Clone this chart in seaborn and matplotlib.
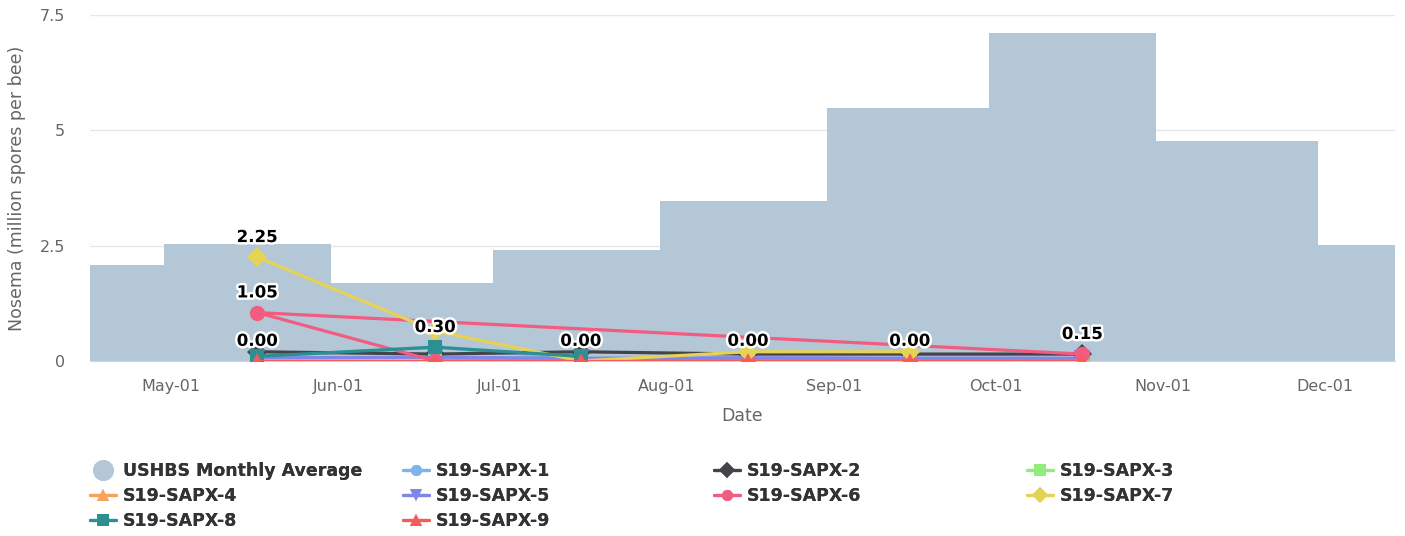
import matplotlib
matplotlib.use("Agg")
import matplotlib.pyplot as plt
import matplotlib.dates as mdates
import matplotlib.ticker as mticker
import matplotlib.patheffects as pe
from matplotlib.lines import Line2D
import pandas as pd
import seaborn as sns

# =========================
# DATA
# =========================
month_starts = ["2019-04-01", "2019-05-01", "2019-06-01", "2019-07-01", "2019-08-01",
                "2019-09-01", "2019-10-01", "2019-11-01", "2019-12-01", "2020-01-01"]
monthly_avg = [2.08, 2.54, 1.69, 2.41, 3.47, 5.49, 7.11, 4.77, 2.52]

sample_dates = ["2019-05-17", "2019-06-19", "2019-07-16", "2019-08-16", "2019-09-15", "2019-10-17"]

# each series: dates (in data order) and values
sapx_1_dates = sample_dates
sapx_1 = [0.10, 0.30, 0.05, 0.05, 0.05, 0.05]
sapx_2_dates = sample_dates
sapx_2 = [0.20, 0.15, 0.20, 0.15, 0.15, 0.15]
sapx_3_dates = sample_dates
sapx_3 = [0.00, 0.00, 0.00, 0.00, 0.00, 0.00]
sapx_4_dates = sample_dates[:3]
sapx_4 = [0.00, 0.00, 0.00]
sapx_5_dates = sample_dates
sapx_5 = [0.07, 0.08, 0.06, 0.07, 0.06, 0.06]
sapx_6_dates = ["2019-10-17", "2019-05-17", "2019-06-19", "2019-07-16", "2019-08-16", "2019-09-15"]
sapx_6 = [0.15, 1.05, 0.00, 0.00, 0.00, 0.00]
sapx_7_dates = sample_dates[:5]
sapx_7 = [2.25, 0.65, 0.00, 0.20, 0.20]
sapx_8_dates = sample_dates[:3]
sapx_8 = [0.10, 0.30, 0.10]
sapx_9_dates = sample_dates
sapx_9 = [0.00, 0.00, 0.00, 0.00, 0.00, 0.00]

label_dates = ["2019-05-17", "2019-05-17", "2019-05-17", "2019-06-19",
               "2019-07-16", "2019-08-16", "2019-09-15", "2019-10-17"]
label_values = [2.25, 1.05, 0.00, 0.30, 0.00, 0.00, 0.00, 0.15]

series = [
    ("S19-SAPX-1", sapx_1_dates, sapx_1, "#7cb5ec", "o"),
    ("S19-SAPX-2", sapx_2_dates, sapx_2, "#434348", "D"),
    ("S19-SAPX-3", sapx_3_dates, sapx_3, "#90ed7d", "s"),
    ("S19-SAPX-4", sapx_4_dates, sapx_4, "#f7a35c", "^"),
    ("S19-SAPX-5", sapx_5_dates, sapx_5, "#8085e9", "v"),
    ("S19-SAPX-6", sapx_6_dates, sapx_6, "#f15c80", "o"),
    ("S19-SAPX-7", sapx_7_dates, sapx_7, "#e4d354", "D"),
    ("S19-SAPX-8", sapx_8_dates, sapx_8, "#2b908f", "s"),
    ("S19-SAPX-9", sapx_9_dates, sapx_9, "#f45b5b", "^"),
]

BAR_COLOR = "#b4c7d6"
TEXT_COLOR = "#666666"
W, H = 1405, 536

# =========================
# FIGURE
# =========================
sns.set_style("white")
plt.rcParams["font.family"] = ["DejaVu Sans"]

fig = plt.figure(figsize=(W / 100, H / 100), dpi=100)
ax = fig.add_axes([90 / W, 1 - 361 / H, 1305 / W, 346 / H])

# monthly average columns (drawn slightly before month start, like the source)
starts = pd.to_datetime(month_starts) - pd.Timedelta(hours=30)
lefts = mdates.date2num(starts[:-1])
widths = mdates.date2num(starts[1:]) - lefts
ax.bar(lefts, monthly_avg, width=widths, align="edge", color=BAR_COLOR,
       linewidth=0, zorder=1)

# sample lines
handles = {}
for name, dates, vals, color, marker in series:
    df = pd.DataFrame({"date": pd.to_datetime(dates), "value": vals})
    ms = 10 if marker in ("D", "s") else 11
    sns.lineplot(data=df, x="date", y="value", sort=False, estimator=None,
                 color=color, marker=marker, markersize=ms, markeredgewidth=0,
                 linewidth=2.3, ax=ax, zorder=3, legend=False)
    handles[name] = Line2D([], [], color=color, marker=marker, markersize=8,
                           markeredgewidth=0, linewidth=2.3)

# data labels
for d, v in zip(label_dates, label_values):
    ax.annotate(f"{v:.2f}", (mdates.date2num(pd.Timestamp(d)), v),
                xytext=(0, 8), textcoords="offset points", ha="center", va="bottom",
                fontsize=12, fontweight="bold", color="black", zorder=6,
                path_effects=[pe.withStroke(linewidth=3.5, foreground="white")])

# axes styling
ax.set_ylim(0, 7.5)
ax.set_xlim(mdates.date2num(pd.Timestamp("2019-04-16")),
            mdates.date2num(pd.Timestamp("2019-12-14")))
ax.yaxis.set_major_locator(mticker.FixedLocator([0, 2.5, 5, 7.5]))
ax.yaxis.set_major_formatter(mticker.FuncFormatter(lambda v, _: f"{v:g}"))
ax.xaxis.set_major_locator(mdates.MonthLocator(bymonth=range(5, 13)))
ax.xaxis.set_major_formatter(mdates.DateFormatter("%b-%d"))
ax.grid(axis="y", color="#e6e6e6", linewidth=1, zorder=0)
ax.set_axisbelow(True)
for s in ["top", "right", "left"]:
    ax.spines[s].set_visible(False)
ax.spines["bottom"].set_color("#ccd6eb")
ax.spines["bottom"].set_zorder(2)
ax.tick_params(axis="y", length=0, labelsize=11.5, labelcolor=TEXT_COLOR, pad=18)
ax.tick_params(axis="x", length=7, width=1, color="#ccd6eb", direction="out",
               labelsize=11.5, labelcolor=TEXT_COLOR, pad=6)
ax.set_xlabel("Date", fontsize=12.5, color=TEXT_COLOR, labelpad=9)
ax.set_ylabel("Nosema (million spores per bee)", fontsize=12.5, color=TEXT_COLOR, labelpad=10)

# legend: four columns, filled row by row like the original
handles["USHBS Monthly Average"] = Line2D([], [], color=BAR_COLOR, marker="o",
                                          markersize=14, linestyle="none")
legend_cols = [
    (90, ["USHBS Monthly Average", "S19-SAPX-4", "S19-SAPX-8"]),
    (403, ["S19-SAPX-1", "S19-SAPX-5", "S19-SAPX-9"]),
    (714, ["S19-SAPX-2", "S19-SAPX-6"]),
    (1027, ["S19-SAPX-3", "S19-SAPX-7"]),
]
for x0, names in legend_cols:
    leg = fig.legend([handles[k] for k in names], names, loc="upper left",
                     bbox_to_anchor=(x0 / W, 1 - 462 / H), frameon=False,
                     prop={"weight": "bold", "size": 12.5}, labelcolor="#333333",
                     handlelength=1.5, handletextpad=0.4, labelspacing=0.4,
                     borderpad=0, borderaxespad=0)
    fig.add_artist(leg)

fig.savefig("out.png", dpi=100)
